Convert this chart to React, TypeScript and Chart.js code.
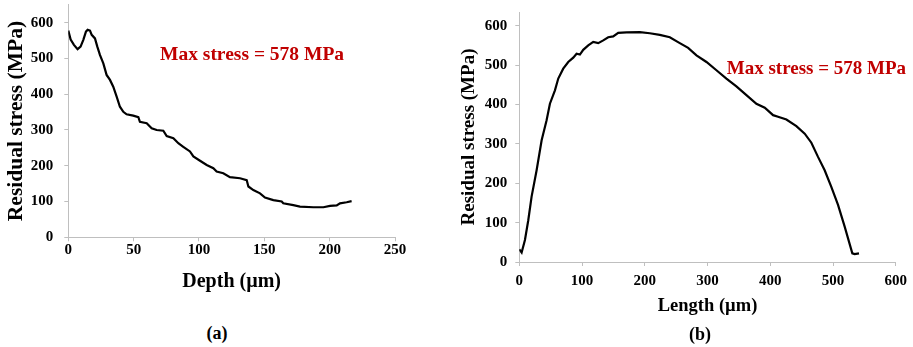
import React, { useEffect, useRef } from 'react';
import { Chart, registerables } from 'chart.js';

Chart.register(...registerables);

// ---------- data ----------
const depthUm = [0, 1.8, 4.3, 7.1, 9.4, 11.5, 13.5, 14.8, 16.6, 17.9, 20.4, 22.2, 24.2, 26.8, 29.3, 31.9, 34.4, 37, 39.5, 42.1, 44.6, 49.7, 53.6, 54.8, 60, 63.8, 67.6, 72.7, 75.3, 80.4, 84.2, 88, 93.1, 95.7, 100.8, 105.9, 111, 113.5, 118.6, 123.7, 131.4, 136.5, 137.8, 141.6, 146.7, 150.5, 156.9, 163.3, 164.5, 172.2, 177.3, 187.5, 195.2, 200.3, 205.4, 207.9, 213, 216.8];
const depthStress = [578, 553, 538, 526, 533, 552, 575, 580, 578, 566, 556, 533, 510, 486, 454, 440, 421, 393, 365, 351, 344, 340, 336, 323, 319, 305, 300, 298, 283, 277, 263, 253, 240, 226, 214, 202, 193, 184, 179, 168, 165, 160, 142, 132, 123, 111, 104, 100, 95, 90, 86, 84, 84, 88, 89, 95, 98, 101];

const lengthUm = [0, 3.7, 9, 14.3, 19.6, 27.6, 35.6, 43.5, 48.8, 56.8, 62.1, 70, 78, 86, 91.3, 96.6, 101.9, 109.9, 117.8, 125.8, 133.8, 141.7, 149.7, 157.6, 170.9, 192.1, 208, 223.9, 239.9, 255.8, 269.1, 282.4, 298.3, 314.2, 330.1, 346, 362, 377.9, 391.2, 404.5, 412.4, 425.7, 441.6, 454.9, 465.5, 476.1, 486.7, 497.3, 508, 518.6, 530.8, 534.5, 541.4];
const lengthStress = [32, 24, 56, 106, 166, 233, 309, 360, 402, 436, 466, 491, 508, 519, 529, 527, 539, 550, 559, 556, 563, 571, 573, 582, 583, 584, 581, 577, 571, 556, 544, 525, 508, 487, 466, 446, 424, 402, 392, 373, 369, 362, 345, 326, 303, 267, 233, 191, 145, 90, 22, 20, 22];

const depthAxis = { min: 0, max: 250, step: 50 };
const lengthAxis = { min: 0, max: 600, step: 100 };
const stressAxisA = { min: 0, max: 650, step: 100 };
const stressAxisB = { min: 0, max: 635, step: 100 };

const annotationText = 'Max stress = 578 MPa';
const annotA = { x: 140.6, y: 495.7 };
const annotB = { x: 473.6, y: 478.4 };

const yTitle = 'Residual stress (MPa)';
const xTitleA = 'Depth (µm)';
const xTitleB = 'Length (µm)';

// ---------- styles ----------
const FONT = '"Liberation Serif", "Times New Roman", serif';
const AXIS_GRAY = '#bfbfbf';
const RED = '#c00000';

type PanelProps = {
  xs: number[];
  ys: number[];
  xAxis: { min: number; max: number; step: number };
  yAxis: { min: number; max: number; step: number };
  xTitle: string;
  annot: { x: number; y: number };
  box: { left: number; top: number; width: number; height: number };
  pad: { top: number; right: number };
  yWidth: number;
  xHeight: number;
  yTitleSize: number;
  yTitlePad: number;
  xTitleSize: number;
  xTitlePad: number;
  xTickPad: number;
  yTickPad: number;
  annotSize: number;
};

function Panel(p: PanelProps) {
  const ref = useRef<HTMLCanvasElement | null>(null);
  useEffect(() => {
    if (!ref.current) return;
    const annotPlugin = {
      id: 'annot',
      afterDatasetsDraw(chart: any) {
        const { ctx, scales } = chart;
        ctx.save();
        ctx.font = `bold ${p.annotSize}px ${FONT}`;
        ctx.fillStyle = RED;
        ctx.textAlign = 'center';
        ctx.textBaseline = 'alphabetic';
        ctx.fillText(annotationText, scales.x.getPixelForValue(p.annot.x), scales.y.getPixelForValue(p.annot.y));
        ctx.restore();
      },
    };
    const chart = new Chart(ref.current, {
      type: 'scatter',
      data: {
        datasets: [
          {
            data: p.xs.map((x, i) => ({ x, y: p.ys[i] })),
            showLine: true,
            borderColor: '#000',
            borderWidth: 2.2,
            pointRadius: 0,
            tension: 0,
            fill: false,
          },
        ],
      },
      options: {
        animation: false,
        responsive: true,
        maintainAspectRatio: false,
        layout: { padding: { left: 0, top: p.pad.top, right: p.pad.right, bottom: 0 } },
        plugins: { legend: { display: false }, tooltip: { enabled: false } },
        scales: {
          x: {
            type: 'linear',
            min: p.xAxis.min,
            max: p.xAxis.max,
            ticks: {
              stepSize: p.xAxis.step,
              color: '#000',
              padding: p.xTickPad,
              maxRotation: 0,
              font: { family: FONT, size: 15, weight: 'bold' },
            },
            grid: { drawOnChartArea: false, drawTicks: true, tickLength: 4, color: AXIS_GRAY },
            border: { color: AXIS_GRAY, width: 1 },
            title: {
              display: true,
              text: p.xTitle,
              color: '#000',
              padding: { top: 0, bottom: p.xTitlePad },
              font: { family: FONT, size: p.xTitleSize, weight: 'bold' },
            },
            afterFit(scale: any) {
              scale.height = p.xHeight;
            },
          },
          y: {
            type: 'linear',
            min: p.yAxis.min,
            max: p.yAxis.max,
            ticks: {
              stepSize: p.yAxis.step,
              includeBounds: false,
              color: '#000',
              padding: p.yTickPad,
              font: { family: FONT, size: 15, weight: 'bold' },
            },
            afterBuildTicks(scale: any) {
              scale.ticks = scale.ticks.filter((t: any) => t.value % p.yAxis.step === 0);
            },
            grid: { drawOnChartArea: false, drawTicks: true, tickLength: 4, color: AXIS_GRAY },
            border: { color: AXIS_GRAY, width: 1 },
            title: {
              display: true,
              text: yTitle,
              color: '#000',
              padding: { top: p.yTitlePad, bottom: 0 },
              font: { family: FONT, size: p.yTitleSize, weight: 'bold' },
            },
            afterFit(scale: any) {
              scale.width = p.yWidth;
            },
          },
        },
      },
      plugins: [annotPlugin],
    } as any);
    return () => chart.destroy();
  }, []);
  return (
    <div style={{ position: 'absolute', left: p.box.left, top: p.box.top, width: p.box.width, height: p.box.height }}>
      <canvas ref={ref} />
    </div>
  );
}

const labelStyle: React.CSSProperties = {
  position: 'absolute',
  fontFamily: FONT,
  fontWeight: 'bold',
  fontSize: 18,
  lineHeight: '20px',
  color: '#000',
  transform: 'translate(-50%, -50%)',
  whiteSpace: 'nowrap',
};

export default function App() {
  return (
    <div style={{ position: 'absolute', left: 0, top: 0, width: 913, height: 347, overflow: 'hidden', background: '#fff' }}>
      <Panel
        xs={depthUm}
        ys={depthStress}
        xAxis={depthAxis}
        yAxis={stressAxisA}
        xTitle={xTitleA}
        annot={annotA}
        box={{ left: 0, top: -20, width: 420, height: 320.3 }}
        pad={{ top: 24.8, right: 25 }}
        yWidth={68.3}
        xHeight={63}
        yTitleSize={21.5}
        yTitlePad={3.8}
        xTitleSize={20}
        xTitlePad={6.3}
        xTickPad={0}
        yTickPad={11}
        annotSize={19.5}
      />
      <Panel
        xs={lengthUm}
        ys={lengthStress}
        xAxis={lengthAxis}
        yAxis={stressAxisB}
        xTitle={xTitleB}
        annot={annotB}
        box={{ left: 450, top: -20, width: 463, height: 345 }}
        pad={{ top: 32, right: 17 }}
        yWidth={69.3}
        xHeight={63}
        yTitleSize={19}
        yTitlePad={7.6}
        xTitleSize={18.5}
        xTitlePad={8}
        xTickPad={6}
        yTickPad={8}
        annotSize={19}
      />
      <div style={{ ...labelStyle, left: 217, top: 333 }}>(a)</div>
      <div style={{ ...labelStyle, left: 700, top: 334 }}>(b)</div>
    </div>
  );
}
